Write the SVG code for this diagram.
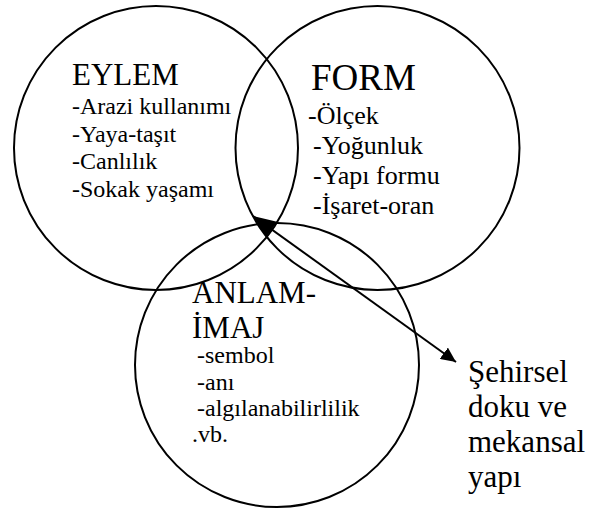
<svg xmlns="http://www.w3.org/2000/svg" width="597" height="511" viewBox="0 0 597 511">
<style>
.c{fill:none;stroke:#000;stroke-width:2}
text{font-family:'Liberation Serif','Times New Roman','DejaVu Serif',serif;fill:#000}
.t30{font-size:31px}
.t37{font-size:37px}
.s24{font-size:24px}
.s26{font-size:26px}
.s31{font-size:31px}
.conn{stroke:#000;stroke-width:2;fill:none}
</style>
<defs>
<marker id="headEnd" viewBox="0 0 15 14" refX="15" refY="7" markerWidth="15" markerHeight="14" markerUnits="userSpaceOnUse" orient="auto">
<path d="M0,0 L15,7 L0,14 Z" fill="#000"/>
</marker>
<marker id="headStart" viewBox="0 0 23 19" refX="23" refY="9.5" markerWidth="23" markerHeight="19" markerUnits="userSpaceOnUse" orient="auto-start-reverse">
<path d="M0,0 L23,9.5 L0,19 Z" fill="#000"/>
</marker>
</defs>
<rect width="597" height="511" fill="#fff"/>
<g id="eylem" font-family="Liberation Serif, Times New Roman, serif">
<circle class="c" cx="156" cy="148" r="142"/>
<text class="t30" x="72" y="85">EYLEM</text>
<text class="s24" x="72" y="114">-Arazi kullanımı</text>
<text class="s24" x="72" y="141.5">-Yaya-taşıt</text>
<text class="s24" x="72" y="169">-Canlılık</text>
<text class="s24" x="72" y="196.5">-Sokak yaşamı</text>
</g>
<g id="form" font-family="Liberation Serif, Times New Roman, serif">
<circle class="c" cx="377.5" cy="148" r="142"/>
<text class="t37" x="311" y="90">FORM</text>
<text class="s26" x="308" y="123.5">-Ölçek</text>
<text class="s26" x="313" y="153.5">-Yoğunluk</text>
<text class="s26" x="313" y="183.5">-Yapı formu</text>
<text class="s26" x="313" y="213.5">-İşaret-oran</text>
</g>
<g id="anlam" font-family="Liberation Serif, Times New Roman, serif">
<circle class="c" cx="277" cy="365" r="142"/>
<text class="t30" x="192" y="303">ANLAM-</text>
<text class="t30" x="192" y="337.5">İMAJ</text>
<text class="s24" x="197" y="363">-sembol</text>
<text class="s24" x="197" y="389.5">-anı</text>
<text class="s24" x="197" y="416">-algılanabilirlilik</text>
<text class="s24" x="192" y="442">.vb.</text>
</g>
<g id="sehirsel" font-family="Liberation Serif, Times New Roman, serif">
<text class="s31" x="468" y="382">Şehirsel</text>
<text class="s31" x="468" y="417">doku ve</text>
<text class="s31" x="468" y="452">mekansal</text>
<text class="s31" x="468" y="487">yapı</text>
</g>
<g id="connectors">
<line class="conn" x1="253" y1="216" x2="456" y2="362" marker-start="url(#headStart)" marker-end="url(#headEnd)"/>
</g>
</svg>
